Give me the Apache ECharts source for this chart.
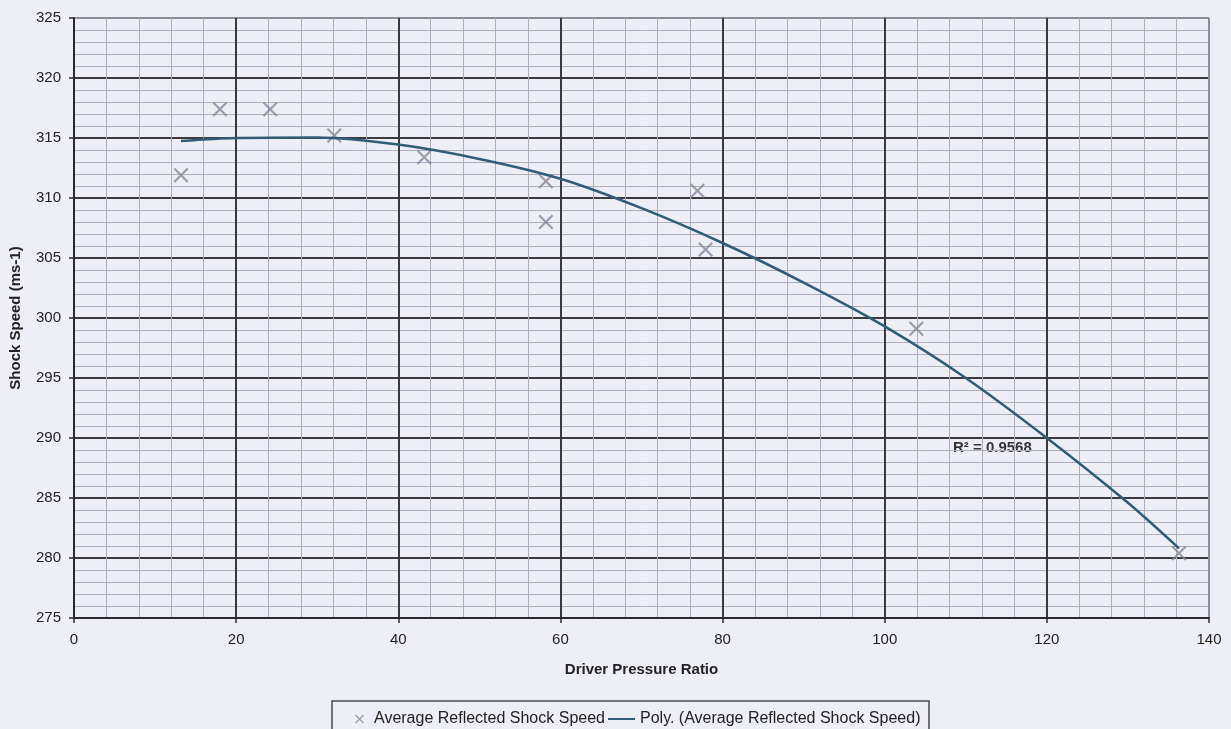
<!DOCTYPE html>
<html>
<head>
<meta charset="utf-8">
<title>Shock Speed vs Driver Pressure Ratio</title>
<script src="https://cdn.jsdelivr.net/npm/echarts@6/dist/echarts.min.js"></script>
<style>
  html, body { margin: 0; padding: 0; background: #eeeef6; }
  #chart { width: 1231px; height: 729px; }
</style>
</head>
<body>
<div id="chart"></div>
<script>
// Measured reflected shock speeds against driver pressure ratio
const pressureRatio = [13.2, 18.0, 24.2, 32.1, 43.2, 58.2, 58.2, 76.9, 77.9, 103.9, 136.3];
const shockSpeed    = [311.9, 317.4, 317.4, 315.2, 313.4, 311.4, 308.0, 310.6, 305.7, 299.1, 280.4];

// Second-order polynomial trendline, sampled along its length
const trendRatio = [13.2, 20, 30, 40, 50, 60, 70, 80, 90, 100, 110, 120, 130, 136.3];
const trendSpeed = [314.75, 315.0, 315.05, 314.45, 313.25, 311.6, 309.15, 306.25, 302.95, 299.3, 295.0, 290.0, 284.6, 280.8];

const seriesName = 'Average Reflected Shock Speed';
const trendName = 'Poly. (Average Reflected Shock Speed)';
const rSquaredText = 'R² = 0.9568';
const xAxisTitle = 'Driver Pressure Ratio';
const yAxisTitle = 'Shock Speed (ms-1)';

const xRange = { min: 0, max: 140, interval: 20 };
const yRange = { min: 275, max: 325, interval: 5 };

const FONT = '"Liberation Sans", Arial, sans-serif';
const crossPath = 'path://M0,1L1,0L5,4L9,0L10,1L6,5L10,9L9,10L5,6L1,10L0,9L4,5Z';

const scatterData = pressureRatio.map((x, i) => [x, shockSpeed[i]]);
const trendData = trendRatio.map((x, i) => [x, trendSpeed[i]]);

// Dark major grid, with the far border in a lighter grey
function majorColors(range) {
  const n = Math.round((range.max - range.min) / range.interval) + 1;
  const arr = [];
  for (let i = 0; i < n; i++) arr.push(i === n - 1 ? '#8c8c9a' : '#3a3a3e');
  return arr;
}

const chart = echarts.init(document.getElementById('chart'), null, { renderer: 'canvas' });

chart.setOption({
  animation: false,
  backgroundColor: '#eeeef6',
  textStyle: { fontFamily: FONT },
  grid: { left: 74, right: 22, top: 18, bottom: 111, containLabel: false },
  xAxis: {
    type: 'value',
    min: xRange.min, max: xRange.max, interval: xRange.interval,
    name: xAxisTitle,
    nameLocation: 'middle',
    nameGap: 44,
    nameTextStyle: { fontFamily: FONT, fontSize: 15, fontWeight: 'bold', color: '#222' },
    axisLine: { show: true, onZero: false, lineStyle: { color: '#2a2a2e', width: 2 } },
    axisTick: { show: true, length: 5, lineStyle: { color: '#2a2a2e', width: 1.5 } },
    axisLabel: { margin: 14, fontFamily: FONT, fontSize: 15, color: '#222' },
    splitLine: { show: true, lineStyle: { color: majorColors(xRange), width: 2 } },
    minorTick: { show: false, splitNumber: 5 },
    minorSplitLine: { show: true, lineStyle: { color: '#adadbb', width: 1 } }
  },
  yAxis: {
    type: 'value',
    min: yRange.min, max: yRange.max, interval: yRange.interval,
    name: yAxisTitle,
    nameLocation: 'middle',
    nameGap: 51,
    nameRotate: 90,
    nameTextStyle: { fontFamily: FONT, fontSize: 15, fontWeight: 'bold', color: '#222' },
    axisLine: { show: true, onZero: false, lineStyle: { color: '#2a2a2e', width: 2 } },
    axisTick: { show: true, length: 5, lineStyle: { color: '#2a2a2e', width: 1.5 } },
    axisLabel: { margin: 13, fontFamily: FONT, fontSize: 15, color: '#222' },
    splitLine: { show: true, lineStyle: { color: majorColors(yRange), width: 2 } },
    minorTick: { show: false, splitNumber: 5 },
    minorSplitLine: { show: true, lineStyle: { color: '#adadbb', width: 1 } }
  },
  legend: [
    {
      selectedMode: false,
      left: 350, top: 706,
      itemWidth: 9, itemHeight: 9,
      textStyle: { fontFamily: FONT, fontSize: 16, color: '#222', padding: [0, 0, 0, 5] },
      data: [{ name: seriesName, icon: crossPath }]
    },
    {
      selectedMode: false,
      left: 603, top: 706,
      itemWidth: 27, itemHeight: 2,
      textStyle: { fontFamily: FONT, fontSize: 16, color: '#222' },
      data: [{ name: trendName, icon: 'rect' }]
    }
  ],
  graphic: [
    {
      type: 'rect',
      shape: { x: 332, y: 701, width: 597, height: 40 },
      style: { fill: 'transparent', stroke: '#4a4a50', lineWidth: 1.5 },
      silent: true
    },
    {
      type: 'text',
      left: 953, top: 440,
      style: {
        text: rSquaredText,
        font: 'bold 15px ' + FONT,
        fill: '#333'
      },
      silent: true
    }
  ],
  series: [
    {
      name: seriesName,
      type: 'scatter',
      data: scatterData,
      symbol: crossPath,
      symbolSize: 15,
      itemStyle: { color: '#86869a' },
      z: 3
    },
    {
      name: trendName,
      type: 'line',
      data: trendData,
      smooth: 0.3,
      showSymbol: false,
      symbol: 'none',
      lineStyle: { color: '#2f5c78', width: 2.5 },
      itemStyle: { color: '#2f5c78' },
      z: 4
    }
  ]
});
</script>
</body>
</html>
